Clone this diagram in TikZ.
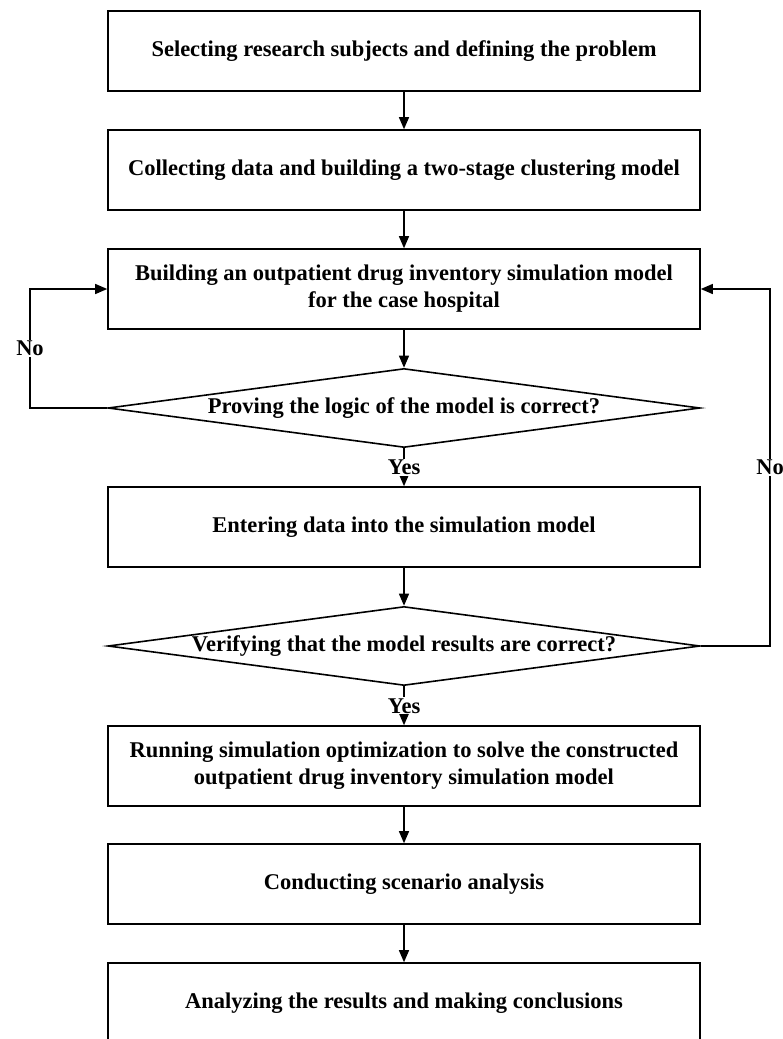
\documentclass[tikz,border=0pt]{standalone}
\usepackage{fontspec}
\setmainfont{Liberation Serif}
\usetikzlibrary{shapes.geometric,arrows.meta}
\newcommand{\dlabel}[1]{\makebox[0pt]{#1}}
\begin{document}
\begin{tikzpicture}
	[x=1pt,y=-1pt,
	every node/.style={font=\bfseries\fontsize{22.5}{27}\selectfont},
	stepbox/.style={draw,line width=1.6pt,minimum width=592pt,minimum height=80pt,align=center},
	decide/.style={draw,diamond,line width=1.6pt,minimum width=592pt,minimum height=79pt,inner sep=0pt},
	link/.style={line width=1.3pt,-{Triangle[length=12pt,width=10pt]}},
	tag/.style={fill=white,inner sep=1pt}]
	\useasboundingbox (0,0) rectangle (782,1039);
	\node[stepbox] (s1) at (404,51) {Selecting research subjects and defining the problem};
	\node[stepbox] (s2) at (404,170) {Collecting data and building a two-stage clustering model};
	\node[stepbox] (s3) at (404,289) {Building an outpatient drug inventory simulation model\\for the case hospital};
	\node[decide] (d1) at (404,408) {\dlabel{Proving the logic of the model is correct?}};
	\node[stepbox] (s4) at (404,527) {Entering data into the simulation model};
	\node[decide] (d2) at (404,646) {\dlabel{Verifying that the model results are correct?}};
	\node[stepbox] (s5) at (404,766) {Running simulation optimization to solve the constructed\\outpatient drug inventory simulation model};
	\node[stepbox] (s6) at (404,884) {Conducting scenario analysis};
	\node[stepbox] (s7) at (404,1003) {Analyzing the results and making conclusions};
	\coordinate (l1) at (30,408);
	\coordinate (l2) at (30,289);
	\coordinate (r1) at (770,646);
	\coordinate (r2) at (770,289);
	\draw[link] (s1) -- (s2);
	\draw[link] (s2) -- (s3);
	\draw[link] (s3) -- (d1);
	\draw[link] (d1) -- node[tag] {Yes} (s4);
	\draw[link] (s4) -- (d2);
	\draw[link] (d2) -- node[tag] {Yes} (s5);
	\draw[link] (s5) -- (s6);
	\draw[link] (s6) -- (s7);
	\draw[link] (d1.west) -- (l1) -- node[tag,pos=0.5] {No} (l2) -- (s3.west);
	\draw[link] (d2.east) -- (r1) -- node[tag,pos=0.5] {No} (r2) -- (s3.east);
\end{tikzpicture}
\end{document}
